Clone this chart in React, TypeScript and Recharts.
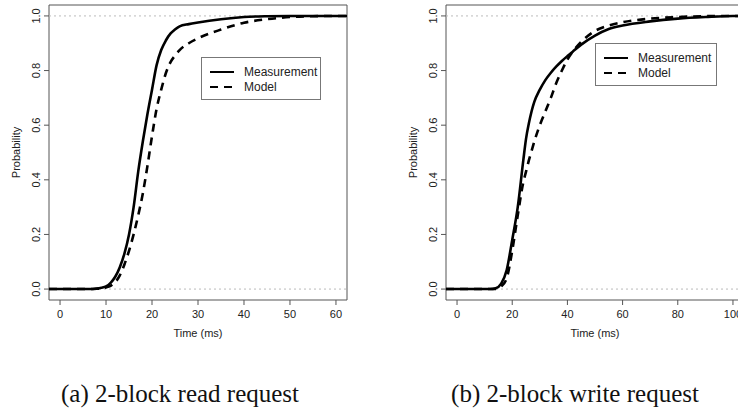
import React from 'react'
import {
  LineChart,
  Line,
  XAxis,
  YAxis,
  ReferenceLine,
  ReferenceArea,
  Legend,
  Label,
} from 'recharts'

// (a) 2-block read request
const readTime = [-2.4, 0, 2, 4, 6, 8, 9, 10, 11, 12, 13, 14, 15, 16, 17, 18, 19, 20, 21, 22, 23, 24, 25, 26, 28, 30, 35, 40, 45, 50, 55, 60, 62.4]
const readMeasured = [0, 0, 0, 0, 0, 0.002, 0.005, 0.01, 0.023, 0.045, 0.08, 0.13, 0.2, 0.3, 0.43, 0.54, 0.64, 0.73, 0.82, 0.875, 0.91, 0.935, 0.95, 0.962, 0.97, 0.976, 0.988, 0.996, 0.999, 1, 1, 1, 1]
const readModel = [0, 0, 0, 0, 0, 0.001, 0.003, 0.006, 0.012, 0.025, 0.05, 0.09, 0.14, 0.2, 0.27, 0.35, 0.45, 0.56, 0.66, 0.73, 0.79, 0.83, 0.855, 0.875, 0.9, 0.918, 0.95, 0.975, 0.988, 0.996, 0.999, 1, 1]
const readTicks = [0, 10, 20, 30, 40, 50, 60]

// (b) 2-block write request
const writeTime = [-4, 0, 5, 10, 12, 14, 16, 18, 20, 22, 24, 25, 26, 27, 28, 30, 32, 34, 36, 38, 40, 42, 45, 50, 55, 60, 70, 80, 90, 100, 104]
const writeMeasured = [0, 0, 0, 0, 0, 0.003, 0.02, 0.07, 0.18, 0.3, 0.47, 0.55, 0.605, 0.65, 0.685, 0.73, 0.765, 0.792, 0.815, 0.835, 0.853, 0.87, 0.895, 0.928, 0.952, 0.965, 0.98, 0.99, 0.996, 1, 1]
const writeModel = [0, 0, 0, 0, 0, 0, 0.01, 0.04, 0.14, 0.27, 0.39, 0.43, 0.47, 0.505, 0.54, 0.6, 0.65, 0.7, 0.755, 0.8, 0.84, 0.87, 0.905, 0.945, 0.965, 0.977, 0.99, 0.996, 0.999, 1, 1]
const writeTicks = [0, 20, 40, 60, 80, 100]

const probTicks = [0, 0.2, 0.4, 0.6, 0.8, 1]
const seriesNames = ['Measurement', 'Model']

const SANS = '"Liberation Sans", Arial, sans-serif'
const SERIF = '"Liberation Serif", "DejaVu Serif", serif'

const toPoints = (t: number[], p: number[]) => t.map((v, i) => ({ t: v, p: p[i] }))

const YTick = ({ x, y, payload }: any) => (
  <text
    x={x}
    y={y}
    transform={`rotate(-90 ${x} ${y})`}
    textAnchor="middle"
    dominantBaseline="central"
    fontSize={11}
    fontFamily={SANS}
    fill="#222"
  >
    {Number(payload.value).toFixed(1)}
  </text>
)

const LegendBox = ({ payload, width }: any) => (
  <div
    style={{
      border: '1px solid #777',
      background: '#fff',
      width,
      height: 43,
      boxSizing: 'border-box',
      padding: '6px 0 0 8px',
      fontFamily: SANS,
      fontSize: 12,
      color: '#222',
    }}
  >
    {(payload || []).map((e: any) => (
      <div key={e.value} style={{ display: 'flex', alignItems: 'center', height: 15 }}>
        <svg width={24} height={4}>
          <line
            x1={0}
            y1={2}
            x2={24}
            y2={2}
            stroke="#000"
            strokeWidth={2}
            strokeDasharray={e.payload?.strokeDasharray}
          />
        </svg>
        <span style={{ marginLeft: 10 }}>{e.value}</span>
      </div>
    ))}
  </div>
)

interface PanelProps {
  time: number[]
  measured: number[]
  model: number[]
  xMax: number
  xTicks: number[]
  legendLeft: number
  legendTop: number
  legendWidth: number
}

function Panel({ time, measured, model, xMax, xTicks, legendLeft, legendTop, legendWidth }: PanelProps) {
  const pad = xMax * 0.04
  const xDomain = [-pad, xMax + pad]
  const yDomain = [-0.04, 1.04]
  return (
    <LineChart width={369} height={345} margin={{ top: 5, right: 22, bottom: 5, left: 0 }}>
      <XAxis
        type="number"
        dataKey="t"
        domain={xDomain}
        ticks={xTicks}
        allowDataOverflow
        axisLine={false}
        tickSize={5}
        tickMargin={5}
        tickLine={{ stroke: '#555' }}
        tick={{ fontSize: 11, fontFamily: SANS, fill: '#222' }}
        height={40}
      >
        <Label
          value="Time (ms)"
          position="insideBottom"
          offset={3}
          style={{ fontSize: 11, fontFamily: SANS, fill: '#222' }}
        />
      </XAxis>
      <YAxis
        type="number"
        domain={yDomain}
        ticks={probTicks}
        allowDataOverflow
        axisLine={false}
        tickSize={5}
        tickMargin={8}
        tickLine={{ stroke: '#555' }}
        tick={<YTick />}
        width={49}
      >
        <Label
          value="Probability"
          angle={-90}
          position="insideLeft"
          offset={16}
          style={{ fontSize: 11, fontFamily: SANS, fill: '#222', textAnchor: 'middle' }}
        />
      </YAxis>
      <ReferenceLine y={0} stroke="#bbb" strokeDasharray="2 3" />
      <ReferenceLine y={1} stroke="#bbb" strokeDasharray="2 3" />
      <Line
        data={toPoints(time, measured)}
        dataKey="p"
        name={seriesNames[0]}
        type="monotone"
        stroke="#000"
        strokeWidth={2.6}
        dot={false}
        isAnimationActive={false}
      />
      <Line
        data={toPoints(time, model)}
        dataKey="p"
        name={seriesNames[1]}
        type="monotone"
        stroke="#000"
        strokeWidth={2.6}
        strokeDasharray="8 6"
        dot={false}
        isAnimationActive={false}
      />
      <ReferenceArea
        x1={xDomain[0]}
        x2={xDomain[1]}
        y1={yDomain[0]}
        y2={yDomain[1]}
        fill="none"
        stroke="#555"
        strokeWidth={1}
        ifOverflow="visible"
      />
      <Legend
        layout="vertical"
        align="center"
        verticalAlign="middle"
        wrapperStyle={{ left: legendLeft, top: legendTop, width: legendWidth }}
        content={(props: any) => <LegendBox payload={props.payload} width={legendWidth} />}
      />
    </LineChart>
  )
}

const captionStyle: React.CSSProperties = {
  position: 'absolute',
  top: 380,
  transform: 'translateX(-50%)',
  whiteSpace: 'nowrap',
  fontFamily: SERIF,
  fontSize: 25,
  color: '#111',
}

export default function App() {
  return (
    <div
      style={{
        position: 'absolute',
        left: 0,
        top: 0,
        width: 738,
        height: 417,
        overflow: 'hidden',
        background: '#fff',
      }}
    >
      <div style={{ position: 'absolute', left: 0, top: 0 }}>
        <Panel
          time={readTime}
          measured={readMeasured}
          model={readModel}
          xMax={60}
          xTicks={readTicks}
          legendLeft={201}
          legendTop={57}
          legendWidth={120}
        />
      </div>
      <div style={{ position: 'absolute', left: 397, top: 0 }}>
        <Panel
          time={writeTime}
          measured={writeMeasured}
          model={writeModel}
          xMax={100}
          xTicks={writeTicks}
          legendLeft={198}
          legendTop={43}
          legendWidth={122}
        />
      </div>
      <div style={{ ...captionStyle, left: 180 }}>(a) 2-block read request</div>
      <div style={{ ...captionStyle, left: 575 }}>(b) 2-block write request</div>
    </div>
  )
}
